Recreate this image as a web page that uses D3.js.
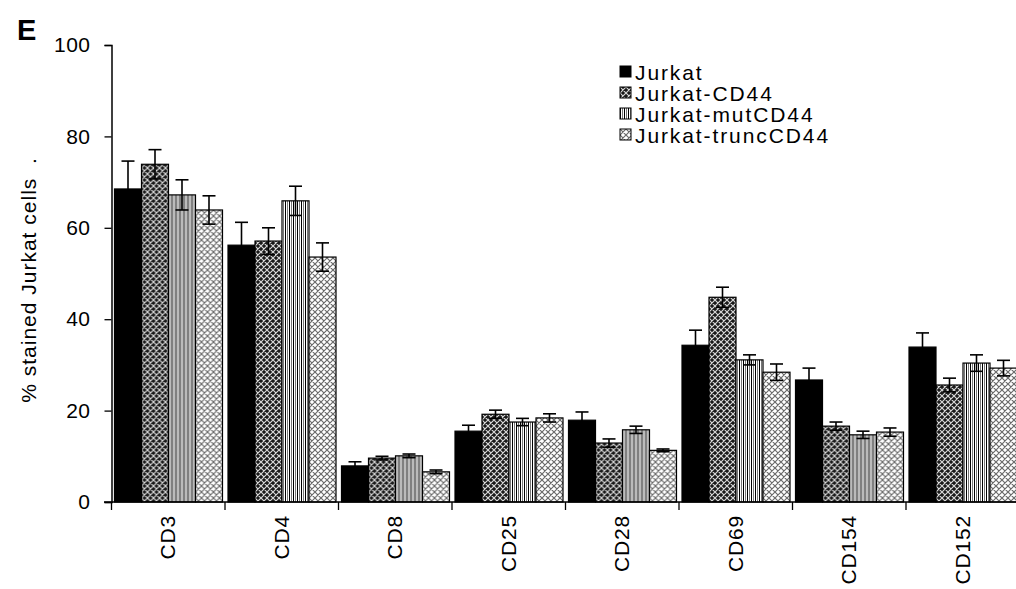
<!DOCTYPE html>
<html>
<head>
<meta charset="utf-8">
<script src="https://cdn.jsdelivr.net/npm/d3@7"></script>
<style>
  html, body { margin: 0; padding: 0; background: #fff; overflow: hidden; }
  svg { display: block; }
  text { font-family: Arial, "Liberation Sans", sans-serif; fill: #000; }
</style>
</head>
<body>
<svg id="chart" width="1016" height="589"></svg>
<script>
// Surface markers measured on Jurkat cell lines
const categories = ["CD3", "CD4", "CD8", "CD25", "CD28", "CD69", "CD154", "CD152"];
const seriesNames = ["Jurkat", "Jurkat-CD44", "Jurkat-mutCD44", "Jurkat-truncCD44"];

const jurkat      = [68.5, 56.2, 7.9, 15.5, 17.9, 34.3, 26.7, 33.9];
const jurkatCD44  = [73.9, 57.1, 9.6, 19.2, 12.9, 44.8, 16.6, 25.6];
const jurkatMut   = [67.2, 65.9, 10.1, 17.5, 15.8, 31.1, 14.7, 30.4];
const jurkatTrunc = [63.9, 53.6, 6.6, 18.4, 11.3, 28.4, 15.3, 29.3];

const errJurkat = [6.1, 5.0, 0.9, 1.3, 1.8, 3.3, 2.6, 3.1];
const errCD44   = [3.2, 2.9, 0.4, 0.9, 0.9, 2.2, 0.9, 1.5];
const errMut    = [3.3, 3.2, 0.4, 0.8, 0.8, 1.1, 0.8, 1.8];
const errTrunc  = [3.1, 3.1, 0.4, 0.9, 0.3, 1.8, 0.9, 1.7];

const yTicks = [0, 20, 40, 60, 80, 100];

const values = [jurkat, jurkatCD44, jurkatMut, jurkatTrunc];
const errors = [errJurkat, errCD44, errMut, errTrunc];
const fills = ["#000", "url(#pCD44)", "url(#pMut)", "url(#pTrunc)"];

const svg = d3.select("#chart");

// Fill patterns
const defs = svg.append("defs");
const lattice = "M0,0 L6,6 M6,0 L0,6 M-1,5 L1,7 M5,-1 L7,1 M-1,1 L1,-1 M5,7 L7,5";
const p1 = defs.append("pattern").attr("id", "pCD44")
  .attr("patternUnits", "userSpaceOnUse").attr("width", 6).attr("height", 6);
p1.append("rect").attr("width", 6).attr("height", 6).attr("fill", "#1a1a1a");
p1.append("path").attr("d", lattice).attr("stroke", "#d8d8d8").attr("stroke-width", 1.2);

const p2 = defs.append("pattern").attr("id", "pMut")
  .attr("patternUnits", "userSpaceOnUse").attr("width", 4).attr("height", 4);
p2.append("rect").attr("width", 4).attr("height", 4).attr("fill", "#fff");
p2.append("rect").attr("x", 0).attr("width", 1).attr("height", 4).attr("fill", "#000");
p2.append("rect").attr("x", 2).attr("width", 1).attr("height", 4).attr("fill", "#777");

const p3 = defs.append("pattern").attr("id", "pTrunc")
  .attr("patternUnits", "userSpaceOnUse").attr("width", 6).attr("height", 6);
p3.append("rect").attr("width", 6).attr("height", 6).attr("fill", "#fff");
p3.append("path").attr("d", lattice).attr("stroke", "#6a6a6a").attr("stroke-width", 1.2);

// Scales
const x0 = 111.5;
const groupW = 113.5;
const x = d3.scaleBand().domain(categories).range([x0, x0 + groupW * categories.length]).padding(0);
const xs = d3.scaleBand().domain(seriesNames).range([3, x.bandwidth() - 2.5]).padding(0);
const y = d3.scaleLinear().domain([0, 100]).range([502, 45]);

// Bars
const rows = (c, ci) => seriesNames.map((s, si) => ({ s, si, v: values[si][ci], e: errors[si][ci] }));
const groups = svg.append("g").selectAll("g")
  .data(categories).join("g")
  .attr("transform", d => `translate(${x(d)},0)`);

groups.selectAll("rect")
  .data(rows)
  .join("rect")
  .attr("x", d => xs(d.s))
  .attr("y", d => y(d.v))
  .attr("width", xs.bandwidth())
  .attr("height", d => y(0) - y(d.v))
  .attr("fill", d => fills[d.si])
  .attr("stroke", "#000")
  .attr("stroke-width", 1.2);

// Error bars (mean ± error, capped at both ends)
const eb = groups.selectAll("g.err")
  .data(rows)
  .join("g").attr("class", "err")
  .attr("stroke", "#000").attr("stroke-width", 1.6);
const cx = d => xs(d.s) + xs.bandwidth() / 2;
eb.append("line")
  .attr("x1", cx).attr("x2", cx)
  .attr("y1", d => y(d.v - d.e))
  .attr("y2", d => y(d.v + d.e));
[1, -1].forEach(sign => {
  eb.append("line")
    .attr("x1", d => cx(d) - 6.5)
    .attr("x2", d => cx(d) + 6.5)
    .attr("y1", d => y(d.v + sign * d.e))
    .attr("y2", d => y(d.v + sign * d.e));
});

// Y axis
const yAxis = svg.append("g")
  .attr("transform", `translate(${x0},0)`)
  .call(d3.axisLeft(y).tickValues(yTicks).tickSize(7).tickPadding(14).tickFormat(d3.format("d")));
yAxis.select(".domain").attr("stroke", "#000").attr("stroke-width", 1.5);
yAxis.selectAll(".tick line").attr("stroke", "#000").attr("stroke-width", 1.3);
yAxis.selectAll(".tick text").attr("font-size", 21).attr("fill", "#000")
  .attr("letter-spacing", 0.5)
  .attr("font-family", "Arial, 'Liberation Sans', sans-serif");

// X axis with ticks at group boundaries
const xLine = svg.append("g");
xLine.append("line")
  .attr("x1", 104).attr("x2", 1016)
  .attr("y1", y(0)).attr("y2", y(0))
  .attr("stroke", "#000").attr("stroke-width", 1.5);
xLine.selectAll("line.bt")
  .data(categories).join("line").attr("class", "bt")
  .attr("x1", d => x(d)).attr("x2", d => x(d))
  .attr("y1", y(0)).attr("y2", y(0) + 8)
  .attr("stroke", "#000").attr("stroke-width", 1.3);
xLine.selectAll("text")
  .data(categories).join("text")
  .attr("transform", d => `translate(${x(d) + x.bandwidth() / 2 + 7},515) rotate(-90)`)
  .attr("text-anchor", "end")
  .attr("font-size", 21)
  .attr("letter-spacing", 0.8)
  .text(d => d);

// Y title
svg.append("text")
  .attr("transform", "translate(36,280) rotate(-90)")
  .attr("text-anchor", "middle")
  .attr("font-size", 21)
  .attr("letter-spacing", 1.0)
  .attr("xml:space", "preserve")
  .style("white-space", "pre")
  .text("% stained Jurkat cells  .");

// Panel letter
svg.append("text")
  .attr("x", 17).attr("y", 40)
  .attr("font-size", 29).attr("font-weight", "bold")
  .text("E");

// Legend
const legend = svg.append("g").attr("transform", "translate(620,72)");
const li = legend.selectAll("g").data(seriesNames).join("g")
  .attr("transform", (d, i) => `translate(0,${i * 21})`);
li.append("rect")
  .attr("x", 0).attr("y", -6).attr("width", 11).attr("height", 11)
  .attr("fill", (d, i) => fills[i]).attr("stroke", "#000").attr("stroke-width", 1);
li.append("text")
  .attr("x", 15).attr("y", 8)
  .attr("font-size", 21)
  .attr("letter-spacing", 1.9)
  .text(d => d);
</script>
</body>
</html>
